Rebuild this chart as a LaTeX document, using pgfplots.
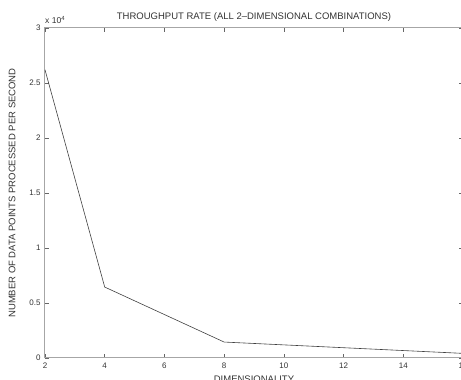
\documentclass[border=0pt]{standalone}
\usepackage{fontspec}
\setmainfont{Liberation Sans}
\usepackage{pgfplots}
\pgfplotsset{compat=1.18}
\begin{document}
\begin{tikzpicture}
\begin{axis}[
  at={(0pt,0pt)}, anchor=south west,
  width=418pt, height=330pt, scale only axis,
  xmin=2, xmax=16, ymin=0, ymax=30000,
  xtick={2,4,...,16},
  ytick={0,5000,10000,15000,20000,25000,30000},
  yticklabels={0,0.5,1,1.5,2,2.5,3},
  scaled y ticks=false,
  tick align=inside,
  major tick length=4pt,
  tick style={black!60, line width=0.5pt},
  axis line style={black!35, line width=1pt},
  tick label style={font=\fontsize{8}{9}\selectfont, text=black!80},
  /pgf/number format/assume math mode=true,
  xticklabel style={yshift=-1pt},
  yticklabel style={xshift=-1pt},
  title={THROUGHPUT RATE (ALL 2--DIMENSIONAL COMBINATIONS)},
  title style={font=\fontsize{9.5}{10}\selectfont, text=black!80, yshift=-3pt},
  xlabel={DIMENSIONALITY},
  ylabel={NUMBER OF DATA POINTS PROCESSED PER SECOND},
  label style={font=\fontsize{9.5}{10}\selectfont, text=black!80},
  xlabel style={yshift=-1pt},
  ylabel style={yshift=7pt},
  clip=false,
]
\addplot[black!75, line width=0.6pt] coordinates {
  (2,26200) (4,6450) (8,1450) (16,420)
};
\node[anchor=south west, font=\fontsize{8.5}{9}\selectfont, text=black!80, inner sep=0pt, yshift=4pt] at (rel axis cs:0,1) {x 10\textsuperscript{4}};
\end{axis}
\pgfresetboundingbox
\useasboundingbox (-45pt,-22pt) rectangle (416pt,358pt);
\end{tikzpicture}
\end{document}
